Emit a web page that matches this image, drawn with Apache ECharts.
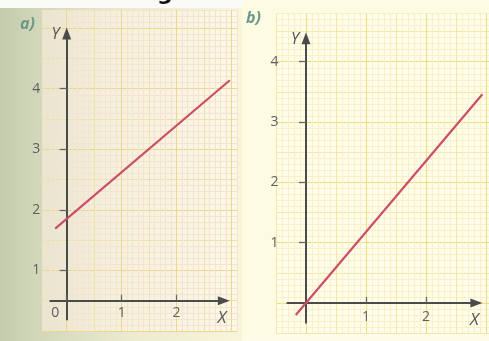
<!DOCTYPE html>
<html><head><meta charset="utf-8">
<script src="https://cdn.jsdelivr.net/npm/echarts@6/dist/echarts.min.js"></script>
<style>html,body{margin:0;padding:0;background:#fdfbe2;}#c{width:489px;height:341px;}</style>
</head><body><div id="c"></div>
<script>
// ---- data ----
const lineA_x = [-0.21, 2.97];
const lineA_y = [1.69, 4.14];
const lineB_x = [-0.17, 2.94];
const lineB_y = [-0.20, 3.46];
const xTicksA = [0, 1, 2];
const yTicksA = [1, 2, 3, 4];
const xTicksB = [1, 2];
const yTicksB = [1, 2, 3, 4];
const panelLabels = ['a)', 'b)'];
const axisNames = ['X', 'Y'];
const headerFragment = 'g';

// ---- layout ----
const panels = [
  { paper: {left: 42, top: 10, width: 195, height: 321}, xr: [-0.45, 3.1], yr: [0, 5.3],
    axX: [-0.3, 2.86], axY: [0.19, 4.91], xAxisAt: 0.5,
    cols: {major: '#eed690', half: '#f1dfb0', fine: '#f3e3d0'},
    bg: {type: 'linear', x: 0, y: 0, x2: 1, y2: 0, colorStops: [{offset: 0, color: '#e8e5cf'}, {offset: 0.35, color: '#f5f0dc'}, {offset: 1, color: '#fdf8e6'}]},
    xLabelMargin: 5, yLabelMargin: 10 },
  { paper: {left: 276, top: 13.5, width: 213, height: 319.6}, xr: [-0.5, 3.05], yr: [-0.5, 4.8],
    axX: [-0.31, 2.84], axY: [-0.33, 4.39], xAxisAt: 0,
    cols: {major: '#f3dc80', half: '#f6e6aa', fine: '#f8efcb'},
    bg: '#fffce8',
    xLabelMargin: 7, yLabelMargin: 9 }
];

function gridColors(min, max, step, cols) {
  const n = Math.round((max - min) / step);
  const arr = [];
  for (let i = 0; i <= n; i++) {
    const k = Math.round((min + i * step) * 20);
    if (k % 20 === 0) arr.push(cols.major);
    else if (k % 10 === 0) arr.push(cols.half);
    else if (k % 2 === 0) arr.push(cols.fine);
    else arr.push('rgba(0,0,0,0)');
  }
  return arr;
}

const FONT = '"Open Sans", "Noto Sans", sans-serif';
const axisColor = '#4b4b4b';
const labelColor = '#606060';

const grids = [], xAxes = [], yAxes = [];
const ticks = [[xTicksA, yTicksA], [xTicksB, yTicksB]];

panels.forEach((p, i) => {
  const px = p.paper.width / (p.xr[1] - p.xr[0]);
  const py = p.paper.height / (p.yr[1] - p.yr[0]);
  grids.push({left: p.paper.left, top: p.paper.top, width: p.paper.width, height: p.paper.height,
    show: true, backgroundColor: p.bg, borderWidth: 0, containLabel: false, outerBoundsMode: 'none'});
  const ag = {
    left: p.paper.left + (p.axX[0] - p.xr[0]) * px,
    width: (p.axX[1] - p.axX[0]) * px,
    top: p.paper.top + (p.yr[1] - p.axY[1]) * py,
    height: (p.axY[1] - p.axY[0]) * py
  };
  grids.push(Object.assign(ag, {containLabel: false, outerBoundsMode: 'none'}));
  const gi = i * 2;
  const common = {type: 'value', axisLabel: {show: false}, axisTick: {show: false}, axisLine: {show: false}};
  xAxes.push(Object.assign({}, common, {gridIndex: gi, min: p.xr[0], max: p.xr[1], interval: 0.05,
    splitLine: {show: true, showMinLine: true, showMaxLine: true, lineStyle: {width: 1, color: gridColors(p.xr[0], p.xr[1], 0.05, p.cols)}}}));
  yAxes.push(Object.assign({}, common, {gridIndex: gi, min: p.yr[0], max: p.yr[1], interval: 0.05,
    splitLine: {show: true, showMinLine: true, showMaxLine: true, lineStyle: {width: 1, color: gridColors(p.yr[0], p.yr[1], 0.05, p.cols)}}}));
  const [xt, yt] = ticks[i];
  const offset = -(p.xAxisAt - p.axY[0]) * py;
  xAxes.push({type: 'value', gridIndex: gi + 1, min: p.axX[0], max: p.axX[1], position: 'bottom',
    offset: offset,
    axisLine: {show: true, onZero: false, symbol: ['none', 'triangle'], symbolSize: [9, 12],
      lineStyle: {color: axisColor, width: 2}},
    axisTick: {show: true, inside: true, length: 6, customValues: xt, lineStyle: {color: '#666', width: 1.3}},
    axisLabel: {show: true, customValues: xt, margin: p.xLabelMargin, color: labelColor, fontSize: 14, fontFamily: FONT,
      formatter: v => v === 0 ? '{z|0}' : String(v),
      rich: {z: {padding: [0, 23, 0, 0], color: labelColor, fontSize: 14, fontFamily: FONT}}},
    splitLine: {show: false},
    name: axisNames[0], nameLocation: 'end', nameGap: -2,
    nameTextStyle: {color: '#555', fontSize: 17, fontStyle: 'italic', fontFamily: FONT,
      align: 'center', verticalAlign: 'top', padding: [9, 0, 0, 0]}});
  yAxes.push({type: 'value', gridIndex: gi + 1, min: p.axY[0], max: p.axY[1],
    axisLine: {show: true, onZero: true, symbol: ['none', 'triangle'], symbolSize: [9, 12],
      lineStyle: {color: axisColor, width: 2}},
    axisTick: {show: true, inside: false, length: 7, customValues: yt, lineStyle: {color: '#666', width: 1.3}},
    axisLabel: {show: true, customValues: yt, margin: p.yLabelMargin, color: labelColor, fontSize: 14, fontFamily: FONT},
    splitLine: {show: false},
    name: axisNames[1], nameLocation: 'end', nameGap: -1,
    nameTextStyle: {color: '#555', fontSize: 16, fontStyle: 'italic', fontFamily: FONT,
      align: 'right', verticalAlign: 'middle', padding: [0, 7, 0, 0]}});
});

const lineColor = '#c94f6a';
const series = [
  {type: 'line', xAxisIndex: 0, yAxisIndex: 0, symbol: 'none', clip: false, z: 5,
   lineStyle: {color: lineColor, width: 2.2}, data: lineA_x.map((x, k) => [x, lineA_y[k]])},
  {type: 'line', xAxisIndex: 2, yAxisIndex: 2, symbol: 'none', clip: false, z: 5,
   lineStyle: {color: lineColor, width: 2.2}, data: lineB_x.map((x, k) => [x, lineB_y[k]])}
];

const chart = echarts.init(document.getElementById('c'), null, {renderer: 'canvas'});
chart.setOption({
  animation: false,
  backgroundColor: '#fdfbe2',
  grid: grids, xAxis: xAxes, yAxis: yAxes, series: series,
  graphic: [
    {type: 'rect', z: -100, shape: {x: 0, y: 0, width: 242, height: 8}, style: {fill: '#fbfbf5'}},
    {type: 'rect', z: -100, shape: {x: 0, y: 8, width: 242, height: 333},
     style: {fill: {type: 'linear', x: 0, y: 0, x2: 1, y2: 0, colorStops: [
       {offset: 0, color: '#c3cbac'}, {offset: 0.15, color: '#d2d7ba'}, {offset: 0.55, color: '#ecebcf'}, {offset: 1, color: '#f8f5da'}]}}},
    {type: 'rect', z: -100, shape: {x: 244, y: 333, width: 245, height: 8}, style: {fill: '#fdfce9'}},
    {type: 'text', z: 10, left: 157, top: -17, style: {text: headerFragment, font: 'bold 22px "DejaVu Sans"', fill: '#111'}},
    {type: 'text', z: 10, left: 20, top: 16, style: {text: panelLabels[0], font: 'italic bold 16px "Open Sans"', fill: '#6c988c'}},
    {type: 'text', z: 10, left: 246, top: 10, style: {text: panelLabels[1], font: 'italic bold 16px "Open Sans"', fill: '#6c988c'}}
  ]
});
</script></body></html>
